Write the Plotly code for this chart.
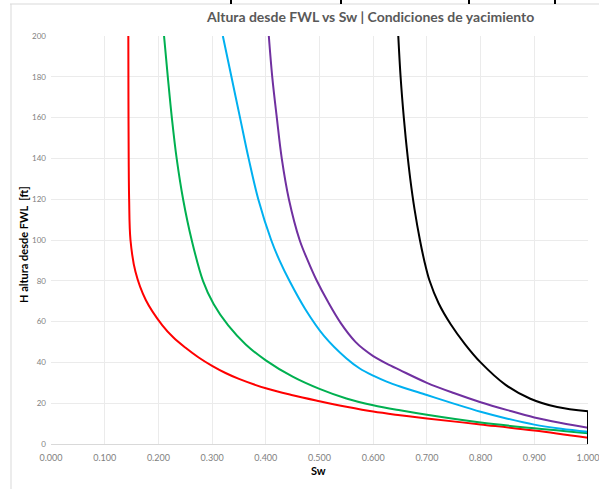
import plotly.graph_objects as go

# ---- data ----
red_sw = [0.1440, 0.1442, 0.1447, 0.1455, 0.1480, 0.1573, 0.1765, 0.2070, 0.2280, 0.2500, 0.2750, 0.3000, 0.3250, 0.3500, 0.4000, 0.4500, 0.5000, 0.5500, 0.6000, 0.6500, 0.7000, 0.8000, 0.9000, 1.0000]
red_h = [200, 170, 140, 120, 100, 84.4, 70.6, 58.3, 52.2, 47.3, 42.4, 38.3, 34.8, 31.9, 27.3, 23.9, 21.0, 18.3, 15.9, 14.1, 12.5, 9.6, 6.6, 3.0]

green_sw = [0.2105, 0.2175, 0.2250, 0.2340, 0.2460, 0.2620, 0.2830, 0.3028, 0.3300, 0.3626, 0.4000, 0.4500, 0.5000, 0.5500, 0.6000, 0.6500, 0.7000, 0.8000, 0.9000, 1.0000]
green_h = [200, 180, 160, 140, 120, 100, 80, 68.6, 58.1, 48.8, 41.0, 33.0, 27.0, 22.3, 19.0, 16.5, 14.3, 10.5, 7.7, 5.3]

cyan_sw = [0.3200, 0.3360, 0.3520, 0.3680, 0.3860, 0.4100, 0.4255, 0.4440, 0.4733, 0.5084, 0.5503, 0.5750, 0.6000, 0.6250, 0.6500, 0.7000, 0.7500, 0.8000, 0.8500, 0.9000, 0.9500, 1.0000]
cyan_h = [200, 180, 160, 140, 120, 100, 90, 80, 66.2, 53.0, 41.9, 37.0, 33.5, 30.6, 28.2, 24.0, 19.8, 15.8, 12.4, 9.5, 7.5, 6.0]

purple_sw = [0.4056, 0.4120, 0.4205, 0.4297, 0.4430, 0.4630, 0.4780, 0.4950, 0.5158, 0.5393, 0.5665, 0.5825, 0.6000, 0.6250, 0.6500, 0.7000, 0.7500, 0.8000, 0.8500, 0.9000, 0.9500, 1.0000]
purple_h = [200, 180, 160, 140, 120, 100, 90, 80, 69.7, 59.4, 50.2, 46.4, 43.1, 39.4, 36.2, 30.0, 25.0, 20.5, 16.6, 13.0, 10.3, 8.0]

black_sw = [0.6467, 0.6510, 0.6570, 0.6625, 0.6690, 0.6770, 0.6870, 0.6950, 0.7050, 0.7218, 0.7443, 0.7708, 0.8000, 0.8466, 0.8926, 0.9426, 1.0000]
black_h = [200, 180, 160, 145, 130, 115, 100, 90, 80, 69.0, 58.7, 49.0, 40.0, 29.0, 22.2, 18.1, 16.0]
# closing vertical segment of the black series at Sw = 1
black_drop_sw = [1.0, 1.0]
black_drop_h = [16.0, 0.0]

x_ticks = [0.0, 0.1, 0.2, 0.3, 0.4, 0.5, 0.6, 0.7, 0.8, 0.9, 1.0]
x_tick_labels = ["0.000", "0.100", "0.200", "0.300", "0.400", "0.500", "0.600", "0.700", "0.800", "0.900", "1.000"]
y_ticks = [0, 20, 40, 60, 80, 100, 120, 140, 160, 180, 200]

title_text = "Altura desde FWL vs Sw | Condiciones de yacimiento"
y_title = "H altura desde FWL  [ft]"
x_title = "Sw"

series = [
    (red_sw, red_h, "#FF0000", "spline"),
    (green_sw, green_h, "#00B050", "spline"),
    (cyan_sw, cyan_h, "#00B0F0", "spline"),
    (purple_sw, purple_h, "#7030A0", "spline"),
    (black_sw, black_h, "#000000", "spline"),
    (black_drop_sw, black_drop_h, "#000000", "linear"),
]

W, H = 599, 489
L, R, T, B = 51, 11, 36, 45
FONT = "Lato, Open Sans, sans-serif"

fig = go.Figure()
for sw, h, c, shp in series:
    fig.add_trace(go.Scatter(x=sw, y=h, mode="lines",
                             line=dict(color=c, width=2, shape=shp, smoothing=1.0) if shp == "spline"
                             else dict(color=c, width=2),
                             showlegend=False, hoverinfo="skip", cliponaxis=False))

pw, ph = W - L - R, H - T - B


def px2paper_x(px):
    return (px - L) / pw


def px2paper_y(py):
    return (H - B - py) / ph


shapes = []
# chart-area border fragments (cropped screenshot)
shapes.append(dict(type="line", xref="paper", yref="paper", x0=px2paper_x(10), x1=px2paper_x(W + 5),
                   y0=px2paper_y(4), y1=px2paper_y(4), line=dict(color="#D9D9D9", width=1)))
shapes.append(dict(type="line", xref="paper", yref="paper", x0=px2paper_x(11), x1=px2paper_x(11),
                   y0=px2paper_y(4), y1=px2paper_y(H + 5), line=dict(color="#D9D9D9", width=1)))
for tx in [231, 341, 469, 555]:
    shapes.append(dict(type="line", xref="paper", yref="paper", x0=px2paper_x(tx), x1=px2paper_x(tx),
                       y0=px2paper_y(0), y1=px2paper_y(4), line=dict(color="#000000", width=2)))

annotations = [
    dict(text="<b>" + title_text + "</b>", xref="paper", yref="paper", x=px2paper_x(370), y=px2paper_y(17),
         xanchor="center", yanchor="middle", showarrow=False, font=dict(family=FONT, size=14, color="#595959")),
    dict(text="<b>" + y_title + "</b>", xref="paper", yref="paper", x=px2paper_x(24), y=px2paper_y(245),
         xanchor="center", yanchor="middle", textangle=-90, showarrow=False,
         font=dict(family=FONT, size=11, color="#000000")),
    dict(text="<b>" + x_title + "</b>", xref="paper", yref="paper", x=px2paper_x(318), y=px2paper_y(470),
         xanchor="center", yanchor="middle", showarrow=False, font=dict(family=FONT, size=11, color="#000000")),
]

fig.update_layout(
    width=W, height=H,
    margin=dict(l=L, r=R, t=T, b=B, autoexpand=False),
    paper_bgcolor="white", plot_bgcolor="white",
    shapes=shapes, annotations=annotations,
    xaxis=dict(range=[0, 1], tickvals=x_ticks, ticktext=x_tick_labels, showgrid=True, gridcolor="#EBEBEB",
               gridwidth=1, zeroline=False, showline=True, linecolor="#D9D9D9", ticks="",
               ticklabelstandoff=5, ticklabeloverflow="allow",
               tickfont=dict(family=FONT, size=9, color="#7F7F7F"), fixedrange=True),
    yaxis=dict(range=[0, 200], tickvals=y_ticks, showgrid=True, gridcolor="#EBEBEB", gridwidth=1,
               zeroline=False, showline=False, ticks="", ticklabelstandoff=4,
               tickfont=dict(family=FONT, size=8, color="#7F7F7F"), fixedrange=True),
)

fig.write_html("out.html", config={"displayModeBar": False},
               post_script="document.body.style.margin='0';")
